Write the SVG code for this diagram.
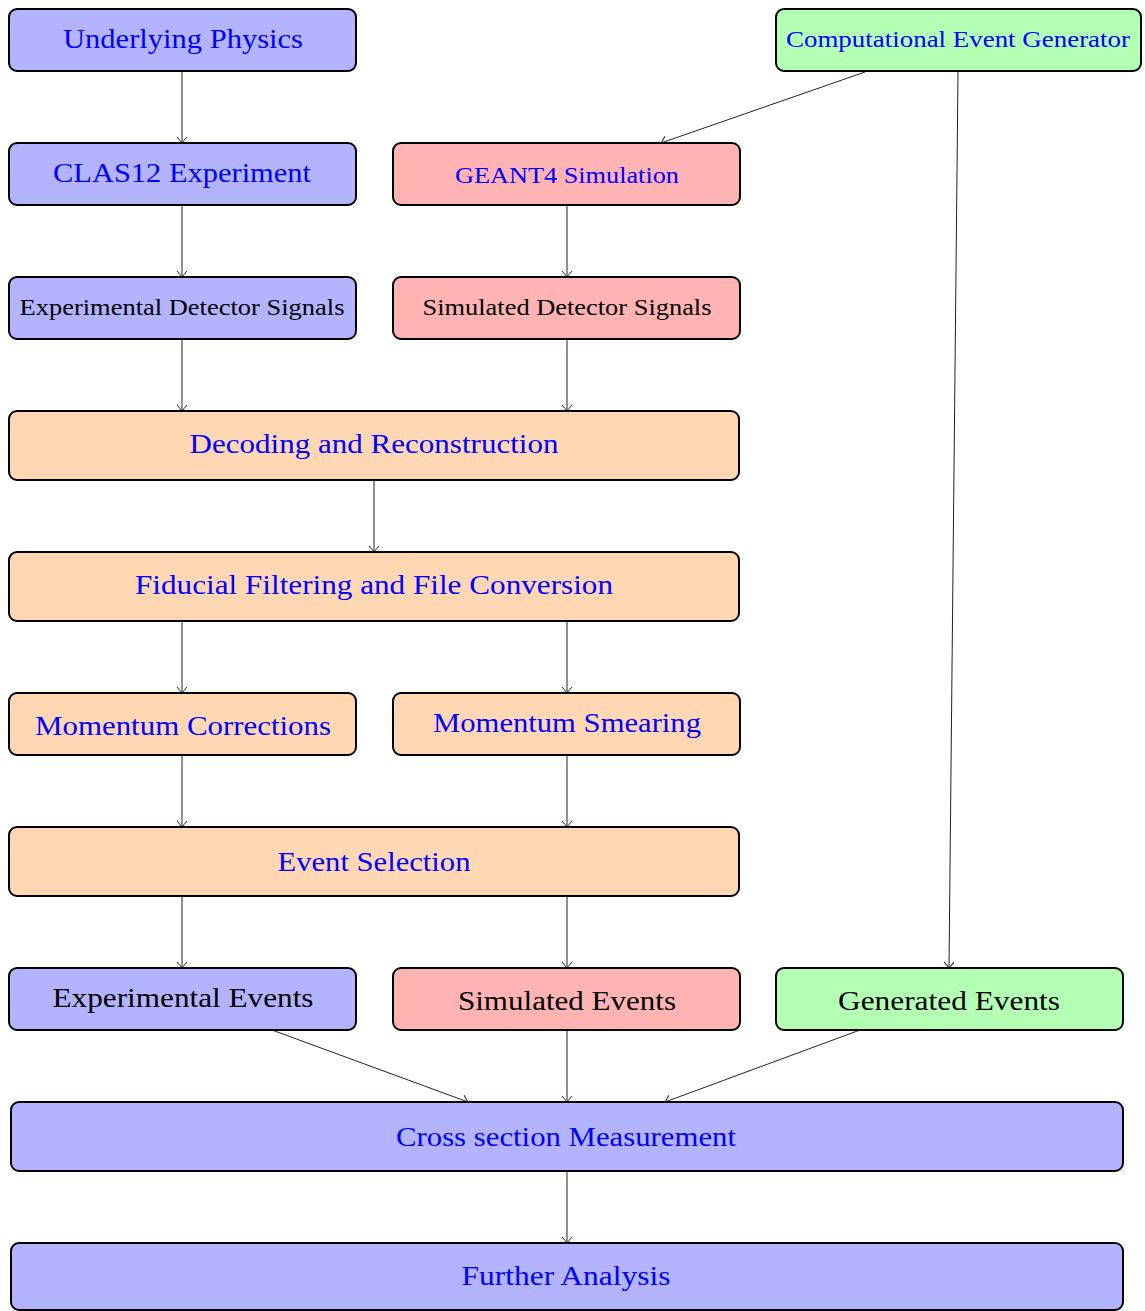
<svg xmlns="http://www.w3.org/2000/svg" width="1145" height="1311" viewBox="0 0 1145 1311">
<style>
.b{fill:#b3b3ff}.r{fill:#ffb3b3}.g{fill:#b3ffb3}.o{fill:#ffd8b3}
rect{stroke:#000;stroke-width:2}
text{font-family:"Liberation Serif","DejaVu Serif",serif;text-anchor:middle}
.t{fill:#0000ff}.k{fill:#000}
.c line{stroke:#222;stroke-width:1;fill:none;marker-end:url(#a)}
</style>
<defs>
<marker id="a" markerUnits="userSpaceOnUse" markerWidth="14" markerHeight="14" viewBox="-7 -7 14 14" refX="0" refY="0" orient="auto">
<path d="M-6,-5 Q-2,-1.5 0,0 Q-2,1.5 -6,5" fill="none" stroke="#222" stroke-width="1"/>
</marker>
</defs>
<rect width="1145" height="1311" fill="#fff" style="stroke:none"/>
<g class="c">
<line x1="182" y1="71" x2="182" y2="143"/>
<line x1="865" y1="72" x2="661" y2="143"/>
<line x1="958" y1="72" x2="949" y2="968"/>
<line x1="182" y1="205" x2="182" y2="277"/>
<line x1="567" y1="205" x2="567" y2="277"/>
<line x1="182" y1="339" x2="182" y2="411"/>
<line x1="567" y1="339" x2="567" y2="411"/>
<line x1="374" y1="480" x2="374" y2="552"/>
<line x1="182" y1="621" x2="182" y2="693"/>
<line x1="567" y1="621" x2="567" y2="693"/>
<line x1="182" y1="755" x2="182" y2="827"/>
<line x1="567" y1="755" x2="567" y2="827"/>
<line x1="182" y1="896" x2="182" y2="968"/>
<line x1="567" y1="896" x2="567" y2="968"/>
<line x1="272" y1="1030" x2="468" y2="1102"/>
<line x1="567" y1="1030" x2="567" y2="1102"/>
<line x1="860" y1="1030" x2="665" y2="1102"/>
<line x1="567" y1="1171" x2="567" y2="1243"/>
</g>
<g id="underlying"><rect class="b" x="9" y="9" width="347" height="62" rx="8"/><text class="t" x="183" y="48" font-size="28" textLength="240" lengthAdjust="spacingAndGlyphs">Underlying Physics</text></g>
<g id="generator"><rect class="g" x="776" y="9" width="365" height="62" rx="8"/><text class="t" x="958" y="47" font-size="23" textLength="344" lengthAdjust="spacingAndGlyphs">Computational Event Generator</text></g>
<g id="clas12"><rect class="b" x="9" y="143" width="347" height="62" rx="8"/><text class="t" x="182" y="182" font-size="28" textLength="258" lengthAdjust="spacingAndGlyphs">CLAS12 Experiment</text></g>
<g id="geant4"><rect class="r" x="393" y="143" width="347" height="62" rx="8"/><text class="t" x="567" y="183" font-size="23" textLength="224" lengthAdjust="spacingAndGlyphs">GEANT4 Simulation</text></g>
<g id="expsignals"><rect class="b" x="9" y="277" width="347" height="62" rx="8"/><text class="k" x="182" y="315" font-size="23" textLength="325" lengthAdjust="spacingAndGlyphs">Experimental Detector Signals</text></g>
<g id="simsignals"><rect class="r" x="393" y="277" width="347" height="62" rx="8"/><text class="k" x="567" y="315" font-size="23" textLength="289" lengthAdjust="spacingAndGlyphs">Simulated Detector Signals</text></g>
<g id="decoding"><rect class="o" x="9" y="411" width="730" height="69" rx="8"/><text class="t" x="374" y="453" font-size="28" textLength="369" lengthAdjust="spacingAndGlyphs">Decoding and Reconstruction</text></g>
<g id="fiducial"><rect class="o" x="9" y="552" width="730" height="69" rx="8"/><text class="t" x="374" y="594" font-size="28" textLength="478" lengthAdjust="spacingAndGlyphs">Fiducial Filtering and File Conversion</text></g>
<g id="momcorr"><rect class="o" x="9" y="693" width="347" height="62" rx="8"/><text class="t" x="183" y="735" font-size="28" textLength="296" lengthAdjust="spacingAndGlyphs">Momentum Corrections</text></g>
<g id="momsmear"><rect class="o" x="393" y="693" width="347" height="62" rx="8"/><text class="t" x="567" y="732" font-size="28" textLength="268" lengthAdjust="spacingAndGlyphs">Momentum Smearing</text></g>
<g id="eventsel"><rect class="o" x="9" y="827" width="730" height="69" rx="8"/><text class="t" x="374" y="871" font-size="28" textLength="193" lengthAdjust="spacingAndGlyphs">Event Selection</text></g>
<g id="expevents"><rect class="b" x="9" y="968" width="347" height="62" rx="8"/><text class="k" x="183" y="1007" font-size="28" textLength="261" lengthAdjust="spacingAndGlyphs">Experimental Events</text></g>
<g id="simevents"><rect class="r" x="393" y="968" width="347" height="62" rx="8"/><text class="k" x="567" y="1010" font-size="28" textLength="218" lengthAdjust="spacingAndGlyphs">Simulated Events</text></g>
<g id="genevents"><rect class="g" x="776" y="968" width="347" height="62" rx="8"/><text class="k" x="949" y="1010" font-size="28" textLength="222" lengthAdjust="spacingAndGlyphs">Generated Events</text></g>
<g id="crosssection"><rect class="b" x="11" y="1102" width="1112" height="69" rx="8"/><text class="t" x="566" y="1146" font-size="28" textLength="340" lengthAdjust="spacingAndGlyphs">Cross section Measurement</text></g>
<g id="further"><rect class="b" x="11" y="1243" width="1112" height="67" rx="8"/><text class="t" x="566" y="1285" font-size="28" textLength="209" lengthAdjust="spacingAndGlyphs">Further Analysis</text></g>
</svg>
